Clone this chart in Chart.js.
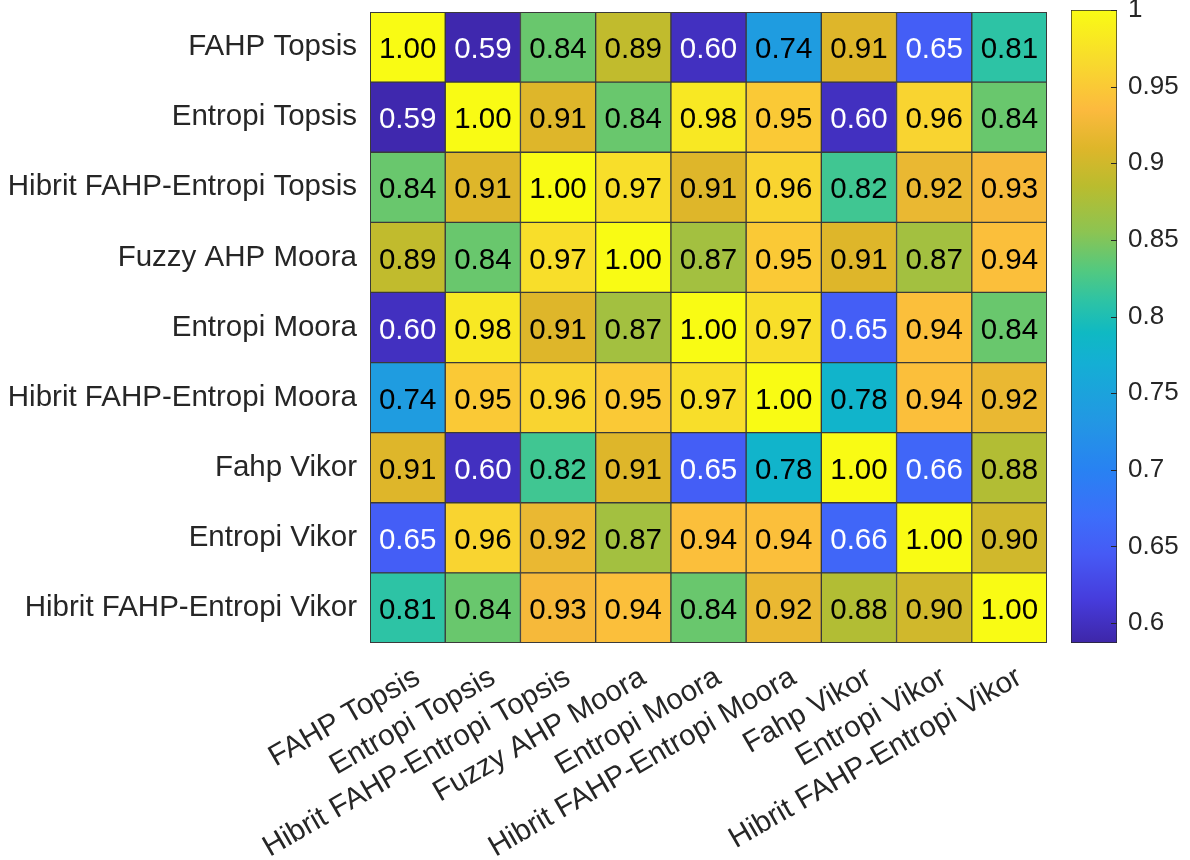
<!DOCTYPE html>
<html>
<head>
<meta charset="utf-8">
<script src="https://cdn.jsdelivr.net/npm/chart.js@4.4.1/dist/chart.umd.min.js"></script>
<style>
  html, body { margin: 0; padding: 0; background: #fff; }
  #wrap { position: relative; width: 1190px; height: 860px; overflow: hidden; }
  #heat { position: absolute; left: 0; top: 0; }
  #cbar { position: absolute; left: 1058px; top: 0; }
</style>
</head>
<body>
<div id="wrap">
  <canvas id="heat" width="1058" height="860"></canvas>
  <canvas id="cbar" width="132" height="860"></canvas>
</div>
<script>
// method names (rows and columns in the same order)
var methods = [
  'FAHP Topsis',
  'Entropi Topsis',
  'Hibrit FAHP-Entropi Topsis',
  'Fuzzy AHP Moora',
  'Entropi Moora',
  'Hibrit FAHP-Entropi Moora',
  'Fahp Vikor',
  'Entropi Vikor',
  'Hibrit FAHP-Entropi Vikor'
];

// correlation values, one row per method
var corr = [
  [1.00, 0.59, 0.84, 0.89, 0.60, 0.74, 0.91, 0.65, 0.81],
  [0.59, 1.00, 0.91, 0.84, 0.98, 0.95, 0.60, 0.96, 0.84],
  [0.84, 0.91, 1.00, 0.97, 0.91, 0.96, 0.82, 0.92, 0.93],
  [0.89, 0.84, 0.97, 1.00, 0.87, 0.95, 0.91, 0.87, 0.94],
  [0.60, 0.98, 0.91, 0.87, 1.00, 0.97, 0.65, 0.94, 0.84],
  [0.74, 0.95, 0.96, 0.95, 0.97, 1.00, 0.78, 0.94, 0.92],
  [0.91, 0.60, 0.82, 0.91, 0.65, 0.78, 1.00, 0.66, 0.88],
  [0.65, 0.96, 0.92, 0.87, 0.94, 0.94, 0.66, 1.00, 0.90],
  [0.81, 0.84, 0.93, 0.94, 0.84, 0.92, 0.88, 0.90, 1.00]
];

// colour limits and colorbar ticks
var cmin = 0.587;
var cmax = 1.0;
var cbTicks = [0.6, 0.65, 0.7, 0.75, 0.8, 0.85, 0.9, 0.95, 1];

// parula-like colormap stops [t, r, g, b]
var parulaStops = [
  [0.000, 62, 38, 168],
  [0.068, 70, 60, 220],
  [0.140, 70, 90, 245],
  [0.200, 60, 110, 250],
  [0.274, 40, 130, 242],
  [0.346, 35, 150, 228],
  [0.443, 20, 175, 212],
  [0.490, 15, 185, 195],
  [0.540, 45, 195, 165],
  [0.588, 82, 201, 128],
  [0.649, 140, 196, 82],
  [0.722, 186, 188, 46],
  [0.782, 222, 182, 42],
  [0.843, 252, 186, 62],
  [0.918, 248, 218, 45],
  [1.000, 249, 251, 20]
];

function parulaRGB(v) {
  var t = (v - cmin) / (cmax - cmin);
  t = Math.max(0, Math.min(1, t));
  for (var k = 1; k < parulaStops.length; k++) {
    var a = parulaStops[k - 1], b = parulaStops[k];
    if (t <= b[0]) {
      var f = (t - a[0]) / (b[0] - a[0]);
      return [a[1] + f * (b[1] - a[1]), a[2] + f * (b[2] - a[2]), a[3] + f * (b[3] - a[3])];
    }
  }
  var l = parulaStops[parulaStops.length - 1];
  return [l[1], l[2], l[3]];
}

function parula(v) {
  var c = parulaRGB(v);
  return 'rgb(' + Math.round(c[0]) + ',' + Math.round(c[1]) + ',' + Math.round(c[2]) + ')';
}

var FONT = 'Liberation Sans, Arial, sans-serif';
var labelColor = '#262626';

// one floating-bar dataset per column, one bar per row
var datasets = methods.map(function (col, j) {
  return {
    label: col,
    data: methods.map(function () { return [j, j + 1]; }),
    backgroundColor: methods.map(function (row, i) { return parula(corr[i][j]); }),
    borderColor: '#3a3a3a',
    borderWidth: 1,
    borderSkipped: false,
    grouped: false,
    barPercentage: 1,
    categoryPercentage: 1
  };
});

var cellLabels = {
  id: 'cellLabels',
  afterDatasetsDraw: function (chart) {
    var ctx = chart.ctx;
    ctx.save();
    ctx.font = '29.5px ' + FONT;
    ctx.textAlign = 'center';
    ctx.textBaseline = 'middle';
    chart.data.datasets.forEach(function (ds, j) {
      chart.getDatasetMeta(j).data.forEach(function (el, i) {
        var v = corr[i][j];
        var c = parulaRGB(v);
        var lum = 0.299 * c[0] + 0.587 * c[1] + 0.114 * c[2];
        ctx.fillStyle = lum < 110 ? '#ffffff' : '#000000';
        var p = el.getCenterPoint();
        ctx.fillText(v.toFixed(2), p.x, p.y + 3);
      });
    });
    // outer frame
    var a = chart.chartArea;
    ctx.strokeStyle = '#3a3a3a';
    ctx.lineWidth = 1;
    ctx.strokeRect(a.left + 0.5, a.top + 0.5, a.right - a.left - 1, a.bottom - a.top - 1);
    ctx.restore();
  }
};

new Chart(document.getElementById('heat').getContext('2d'), {
  type: 'bar',
  data: { labels: methods, datasets: datasets },
  options: {
    indexAxis: 'y',
    responsive: false,
    animation: false,
    layout: { padding: { top: 12, right: 11, left: 0, bottom: 0 } },
    plugins: { legend: { display: false }, tooltip: { enabled: false } },
    scales: {
      x: {
        type: 'linear',
        min: 0,
        max: 9,
        grid: { display: false },
        border: { display: false },
        afterBuildTicks: function (s) {
          s.ticks = methods.map(function (m, i) { return { value: i + 0.5 }; });
        },
        afterFit: function (s) {
          s.height = 860 - 643;
          s.paddingLeft = 0;
          s.paddingRight = 0;
        },
        ticks: {
          autoSkip: false,
          minRotation: 30,
          maxRotation: 30,
          padding: 9,
          labelOffset: 10,
          color: labelColor,
          font: { family: FONT, size: 29.5 },
          callback: function (v, i) { return methods[i]; }
        }
      },
      y: {
        type: 'category',
        offset: true,
        grid: { display: false },
        border: { display: false },
        afterFit: function (s) {
          s.width = 370;
          s.paddingTop = 0;
          s.paddingBottom = 0;
        },
        ticks: {
          padding: 5,
          color: labelColor,
          font: { family: FONT, size: 29.5 }
        }
      }
    }
  },
  plugins: [cellLabels]
});

// colorbar
var cbTickMarks = {
  id: 'cbTickMarks',
  afterDraw: function (chart) {
    var ctx = chart.ctx, ys = chart.scales.y, a = chart.chartArea;
    ctx.save();
    ctx.strokeStyle = '#262626';
    ctx.lineWidth = 1;
    cbTicks.forEach(function (t) {
      var y = Math.round(ys.getPixelForValue(t)) + 0.5;
      ctx.beginPath();
      ctx.moveTo(a.right - 6, y);
      ctx.lineTo(a.right, y);
      ctx.stroke();
    });
    ctx.restore();
  }
};

new Chart(document.getElementById('cbar').getContext('2d'), {
  type: 'bar',
  data: {
    labels: [''],
    datasets: [{
      data: [[cmin, cmax]],
      backgroundColor: function (c) {
        var ch = c.chart;
        if (!ch.chartArea) return null;
        var ys = ch.scales.y;
        var g = ch.ctx.createLinearGradient(0, ys.getPixelForValue(cmin), 0, ys.getPixelForValue(cmax));
        parulaStops.forEach(function (s) {
          g.addColorStop(s[0], 'rgb(' + s[1] + ',' + s[2] + ',' + s[3] + ')');
        });
        return g;
      },
      borderColor: '#262626',
      borderWidth: 1,
      borderSkipped: false,
      barPercentage: 1,
      categoryPercentage: 1
    }]
  },
  options: {
    responsive: false,
    animation: false,
    layout: { padding: { top: 10, right: 0, left: 13, bottom: 217 } },
    plugins: { legend: { display: false }, tooltip: { enabled: false } },
    scales: {
      x: { display: false },
      y: {
        position: 'right',
        min: cmin,
        max: cmax,
        grid: { display: false },
        border: { display: false },
        afterBuildTicks: function (s) {
          s.ticks = cbTicks.map(function (t) { return { value: t }; });
        },
        afterFit: function (s) {
          s.width = 73;
          s.paddingTop = 0;
          s.paddingBottom = 0;
        },
        ticks: {
          padding: 3,
          color: labelColor,
          font: { family: FONT, size: 26 },
          callback: function (v) { return String(v); }
        }
      }
    }
  },
  plugins: [cbTickMarks]
});
</script>
</body>
</html>
